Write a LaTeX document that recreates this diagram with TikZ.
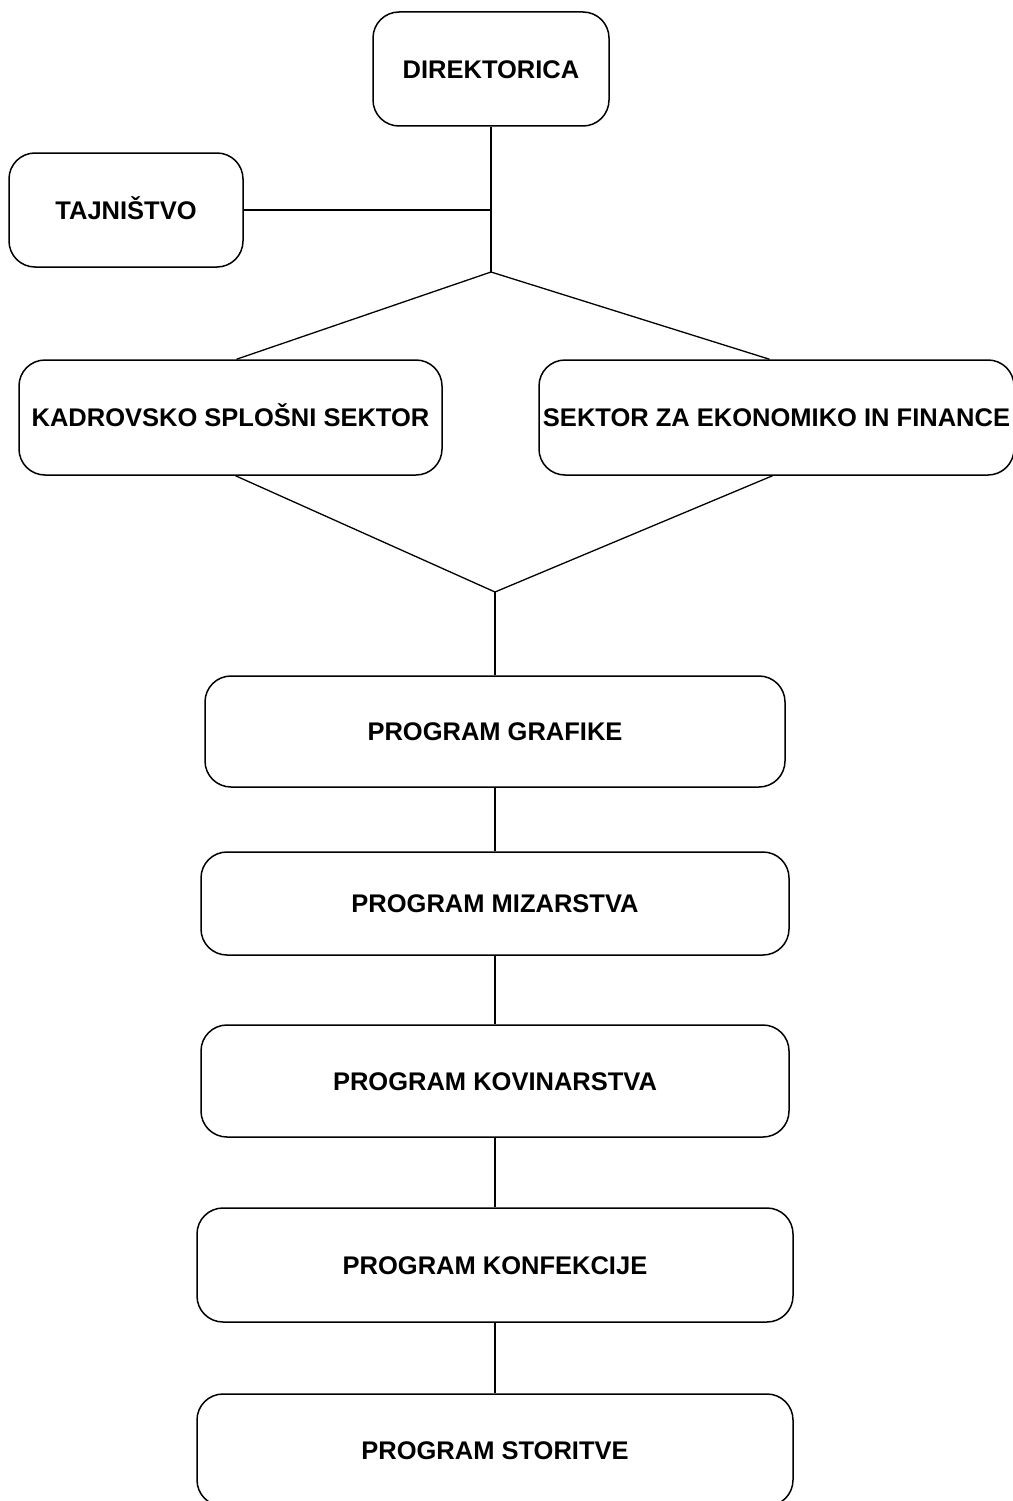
\documentclass[tikz,border=0pt]{standalone}
\usepackage{fontspec}
\setmainfont{Liberation Sans}
\usepackage{tikz}
\usetikzlibrary{calc}

\tikzset{
  unit/.style={draw, rounded corners=26pt, line width=1.5pt, align=center,
    font=\fontsize{25.5}{30}\selectfont\bfseries, inner sep=0pt,
    text height=18.3pt, text depth=0pt},
  link/.style={line width=1.3pt}
}

\begin{document}
\begin{tikzpicture}[x=1pt,y=1pt,yscale=-1,xscale=1]
\useasboundingbox (0,0) rectangle (1012,1501);

% Boxes
\node [unit, minimum width=236pt, minimum height=114pt] (dir) at (491,69) {DIREKTORICA};
\node [unit, minimum width=234pt, minimum height=114pt] (taj) at (126,210) {TAJNIŠTVO};
\node [unit, minimum width=423pt, minimum height=115pt] (kadr) at (230.5,417.5) {KADROVSKO SPLOŠNI SEKTOR};
\node [unit, minimum width=475pt, minimum height=115pt] (sekt) at (776.5,417.5) {SEKTOR ZA EKONOMIKO IN FINANCE};
\node [unit, minimum width=580pt, minimum height=111pt] (graf) at (495,731.5) {PROGRAM GRAFIKE};
\node [unit, minimum width=588pt, minimum height=103pt] (miz) at (495,903.5) {PROGRAM MIZARSTVA};
\node [unit, minimum width=588pt, minimum height=112pt] (kov) at (495,1081) {PROGRAM KOVINARSTVA};
\node [unit, minimum width=596pt, minimum height=114pt] (konf) at (495,1265) {PROGRAM KONFEKCIJE};
\node [unit, minimum width=596pt, minimum height=112pt] (stor) at (495,1450) {PROGRAM STORITVE};

% Branch points
\coordinate (split) at (491,272);
\coordinate (merge) at (495,592);

% Lines
\draw [link] (dir.south) -- (split);
\draw [link] (taj.east) -- (taj.east -| dir.south);
\draw [link] ($(kadr.north)+(6,0)$) -- (split) -- ($(sekt.north)+(-7,0)$);
\draw [link] ($(kadr.south)+(5,0)$) -- (merge) -- ($(sekt.south)+(-4,0)$);
\draw [link] (merge) -- (graf.north);
\draw [link] (graf.south) -- (miz.north);
\draw [link] (miz.south) -- (kov.north);
\draw [link] (kov.south) -- (konf.north);
\draw [link] (konf.south) -- (stor.north);

\end{tikzpicture}
\end{document}
